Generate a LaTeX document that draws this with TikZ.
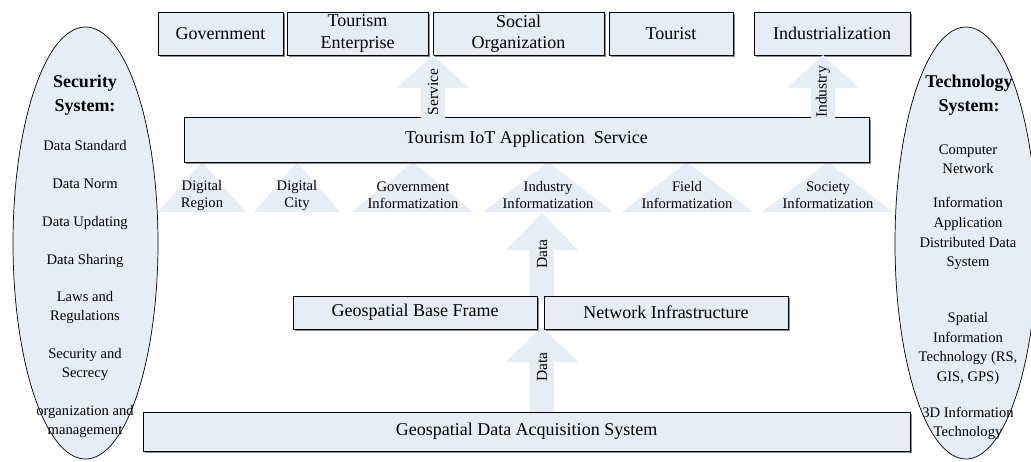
\documentclass[tikz,border=0pt]{standalone}
\usepackage{fontspec}
\setmainfont{Liberation Serif}
\usetikzlibrary{shapes.geometric,shadows}

\definecolor{paleblue}{RGB}{231,237,247}

% fat upward arrow: centre x, tip y, neck y, tail y
\newcommand{\blockup}[4]{%
    \fill[flow] (#1-12,#4) -- (#1-12,#3) -- (#1-36,#3) -- (#1,#2)
        -- (#1+36,#3) -- (#1+12,#3) -- (#1+12,#4) -- cycle;}

\begin{document}
\begin{tikzpicture}[
        x=1pt, y=-1pt,
        box/.style={
            draw,
            line width=0.7pt,
            fill=paleblue,
            drop shadow={shadow xshift=1.5pt, shadow yshift=-1.5pt, fill=black!45, opacity=1},
            inner sep=0pt,
            align=center,
            font=\fontsize{18}{21.5}\selectfont
        },
        oval/.style={ellipse, draw, line width=0.7pt, fill=paleblue, inner sep=0pt},
        flow/.style={fill=paleblue},
        head/.style={align=center, font=\fontsize{18}{24}\selectfont\bfseries},
        item/.style={align=center, font=\fontsize{14.6}{19.5}\selectfont},
        field/.style={align=center, font=\fontsize{14.6}{17}\selectfont},
        tag/.style={rotate=90, font=\fontsize{15.5}{18}\selectfont}
    ]
    \useasboundingbox (0,0) rectangle (1031,461);

    % side systems
    \node[oval, minimum width=145pt, minimum height=432pt, name=secsys] at (85.5,243) {};
    \node[oval, minimum width=142pt, minimum height=432pt, name=techsys] at (966,243) {};

    % fields under the service layer
    \fill[flow] (158,212) -- (202,162) -- (246,212) -- cycle;
    \fill[flow] (254,212) -- (297,162) -- (340,212) -- cycle;
    \fill[flow] (352,212) -- (413,162) -- (473,212) -- cycle;
    \fill[flow] (483,212) -- (548,162) -- (613,212) -- cycle;
    \fill[flow] (622,212) -- (687,162) -- (753,212) -- cycle;
    \fill[flow] (762,212) -- (828,162) -- (893,212) -- cycle;

    % data flow
    \blockup{542}{213}{250}{300}
    \blockup{542}{327}{362}{413}

    % users
    \node[box, minimum width=125pt, minimum height=43pt, name=gov] at (220.5,33.5) {Government};
    \node[box, minimum width=141pt, minimum height=43pt, name=tent] at (357.5,33.5) {Tourism\\Enterprise};
    \node[box, minimum width=171pt, minimum height=43pt, name=social] at (518.5,33.5) {Social\\Organization};
    \node[box, minimum width=124pt, minimum height=43pt, name=tourist] at (671,33.5) {Tourist};
    \node[box, minimum width=156pt, minimum height=43pt, name=indus] at (832,33.5) {Industrialization};

    \node[
        box,
        minimum width=685pt,
        minimum height=45pt,
        name=iot
    ] at (526.5,139.5) {Tourism IoT Application~ Service};

    \node[box, minimum width=244pt, minimum height=33pt, name=frame] at (415,312.5) {Geospatial Base Frame};
    \node[box, minimum width=244pt, minimum height=33pt, name=netinf] at (666,312.5) {Network Infrastructure};

    \node[
        box,
        minimum width=767pt,
        minimum height=39pt,
        name=acq
    ] at (526.5,431.5) {Geospatial Data Acquisition System};

    % service and industry outputs
    \blockup{433}{55}{88}{118.5}
    \blockup{823}{55}{88}{118.5}

    \node[tag, name=svc] at (433,92) {Service};
    \node[tag, name=ind] at (823,92) {Industry};
    \node[tag, name=data1] at (542,254) {Data};
    \node[tag, name=data2] at (542,367) {Data};

    \node[field, name=dreg] at (202,195.5) {Digital\\Region};
    \node[field, name=dcity] at (297,195.5) {Digital\\City};
    \node[field, name=govinf] at (413,195.5) {Government\\Informatization};
    \node[field, name=indinf] at (548,195.5) {Industry\\Informatization};
    \node[field, name=fldinf] at (687,195.5) {Field\\Informatization};
    \node[field, name=socinf] at (828,195.5) {Society\\Informatization};

    % security system
    \node[head, name=sechead] at (85,95) {Security\\System:};
    \node[item, name=s1] at (85,146) {Data Standard};
    \node[item, name=s2] at (85,184) {Data Norm};
    \node[item, name=s3] at (85,223) {Data Updating};
    \node[item, name=s4] at (85,261) {Data Sharing};
    \node[item, name=s5] at (85,307.5) {Laws and\\Regulations};
    \node[item, name=s6] at (85,364.5) {Security and\\Secrecy};
    \node[item, name=s7] at (85,421.5) {organization and\\management};

    % technology system
    \node[head, name=techhead] at (969,95) {Technology\\System:};
    \node[item, name=t1] at (968,159) {Computer\\Network};
    \node[item, name=t2] at (968,214) {Information\\Application};
    \node[item, name=t3] at (968,253.5) {Distributed Data\\System};
    \node[item, name=t4] at (968,348.5) {Spatial\\Information\\Technology (RS,\\GIS, GPS)};
    \node[item, name=t5] at (968,423.5) {3D Information\\Technology};
\end{tikzpicture}
\end{document}
